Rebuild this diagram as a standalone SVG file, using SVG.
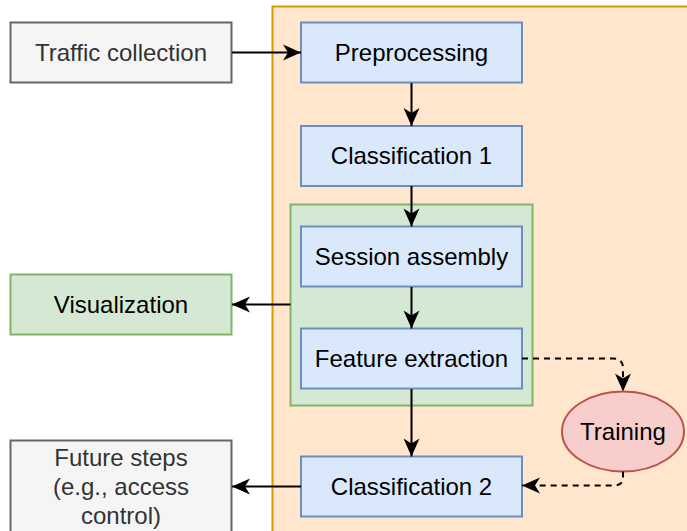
<svg xmlns="http://www.w3.org/2000/svg" width="687" height="531" viewBox="0 0 687 531">
  <defs>
    <marker id="arrow" markerUnits="userSpaceOnUse" markerWidth="20" markerHeight="20" viewBox="0 0 20 20" refX="19" refY="10" orient="auto">
      <path d="M1,2 L19,10 L1,18 L6,10 Z" fill="#000"/>
    </marker>
    <style>
      .lbl { font-family: "Liberation Sans", Arial, Helvetica, sans-serif; font-size: 24px; text-anchor: middle; dominant-baseline: central; fill: #000; }
      .grey-lbl { fill: #333333; }
      .proc { fill: #dae8fc; stroke: #6c8ebf; stroke-width: 2; }
      .ext { fill: #f5f5f5; stroke: #666666; stroke-width: 2; }
      .green { fill: #d5e8d4; stroke: #82b366; stroke-width: 2; }
      .edge { fill: none; stroke: #000; stroke-width: 2; marker-end: url(#arrow); }
      .dash { stroke-dasharray: 6 5; }
    </style>
  </defs>

  <rect width="687" height="531" fill="#ffffff"/>

  <!-- system boundary -->
  <g id="system">
    <rect x="272.5" y="6.5" width="430" height="540" fill="#ffe6cc" stroke="#d79b00" stroke-width="2"/>
  </g>

  <!-- session/feature group -->
  <g id="session-group">
    <rect class="green" x="290.5" y="204.5" width="242" height="201"/>
  </g>

  <g id="traffic-collection">
    <rect class="ext" x="10.5" y="22.5" width="221" height="60"/>
    <text class="lbl grey-lbl" x="121" y="52">Traffic collection</text>
  </g>

  <g id="preprocessing">
    <rect class="proc" x="301" y="22.5" width="221" height="60"/>
    <text class="lbl" x="411.5" y="52">Preprocessing</text>
  </g>

  <g id="classification-1">
    <rect class="proc" x="301" y="126" width="221" height="60"/>
    <text class="lbl" x="411.5" y="155.5">Classification 1</text>
  </g>

  <g id="session-assembly">
    <rect class="proc" x="301" y="226.5" width="221" height="60"/>
    <text class="lbl" x="411.5" y="256">Session assembly</text>
  </g>

  <g id="feature-extraction">
    <rect class="proc" x="301" y="328.5" width="221" height="60"/>
    <text class="lbl" x="411.5" y="358">Feature extraction</text>
  </g>

  <g id="visualization">
    <rect class="green" x="10.5" y="274.5" width="221" height="60"/>
    <text class="lbl" x="121" y="304">Visualization</text>
  </g>

  <g id="training">
    <ellipse cx="623" cy="431.5" rx="61" ry="40" fill="#f8cecc" stroke="#b85450" stroke-width="2"/>
    <text class="lbl" x="623" y="431">Training</text>
  </g>

  <g id="classification-2">
    <rect class="proc" x="301" y="456.5" width="221" height="60"/>
    <text class="lbl" x="411.5" y="486">Classification 2</text>
  </g>

  <g id="future-steps">
    <rect class="ext" x="10.5" y="440.5" width="221" height="92"/>
    <text class="lbl grey-lbl" x="121" y="457">Future steps</text>
    <text class="lbl grey-lbl" x="121" y="486">(e.g., access</text>
    <text class="lbl grey-lbl" x="121" y="515">control)</text>
  </g>

  <!-- connectors -->
  <g id="connectors">
    <path class="edge" d="M232,52.5 L301,52.5"/>
    <path class="edge" d="M411.5,83 L411.5,126"/>
    <path class="edge" d="M411.5,186 L411.5,226.5"/>
    <path class="edge" d="M411.5,287 L411.5,328.5"/>
    <path class="edge" d="M411.5,389 L411.5,456.5"/>
    <path class="edge" d="M290.5,304.5 L232,304.5"/>
    <path class="edge" d="M301,486.5 L232,486.5"/>
    <path class="edge dash" d="M522,358.5 L613,358.5 Q623,358.5 623,368.5 L623,391.5"/>
    <path class="edge dash" d="M623,471.5 L623,478 Q623,485.5 613,485.5 L522,485.5"/>
  </g>
</svg>
